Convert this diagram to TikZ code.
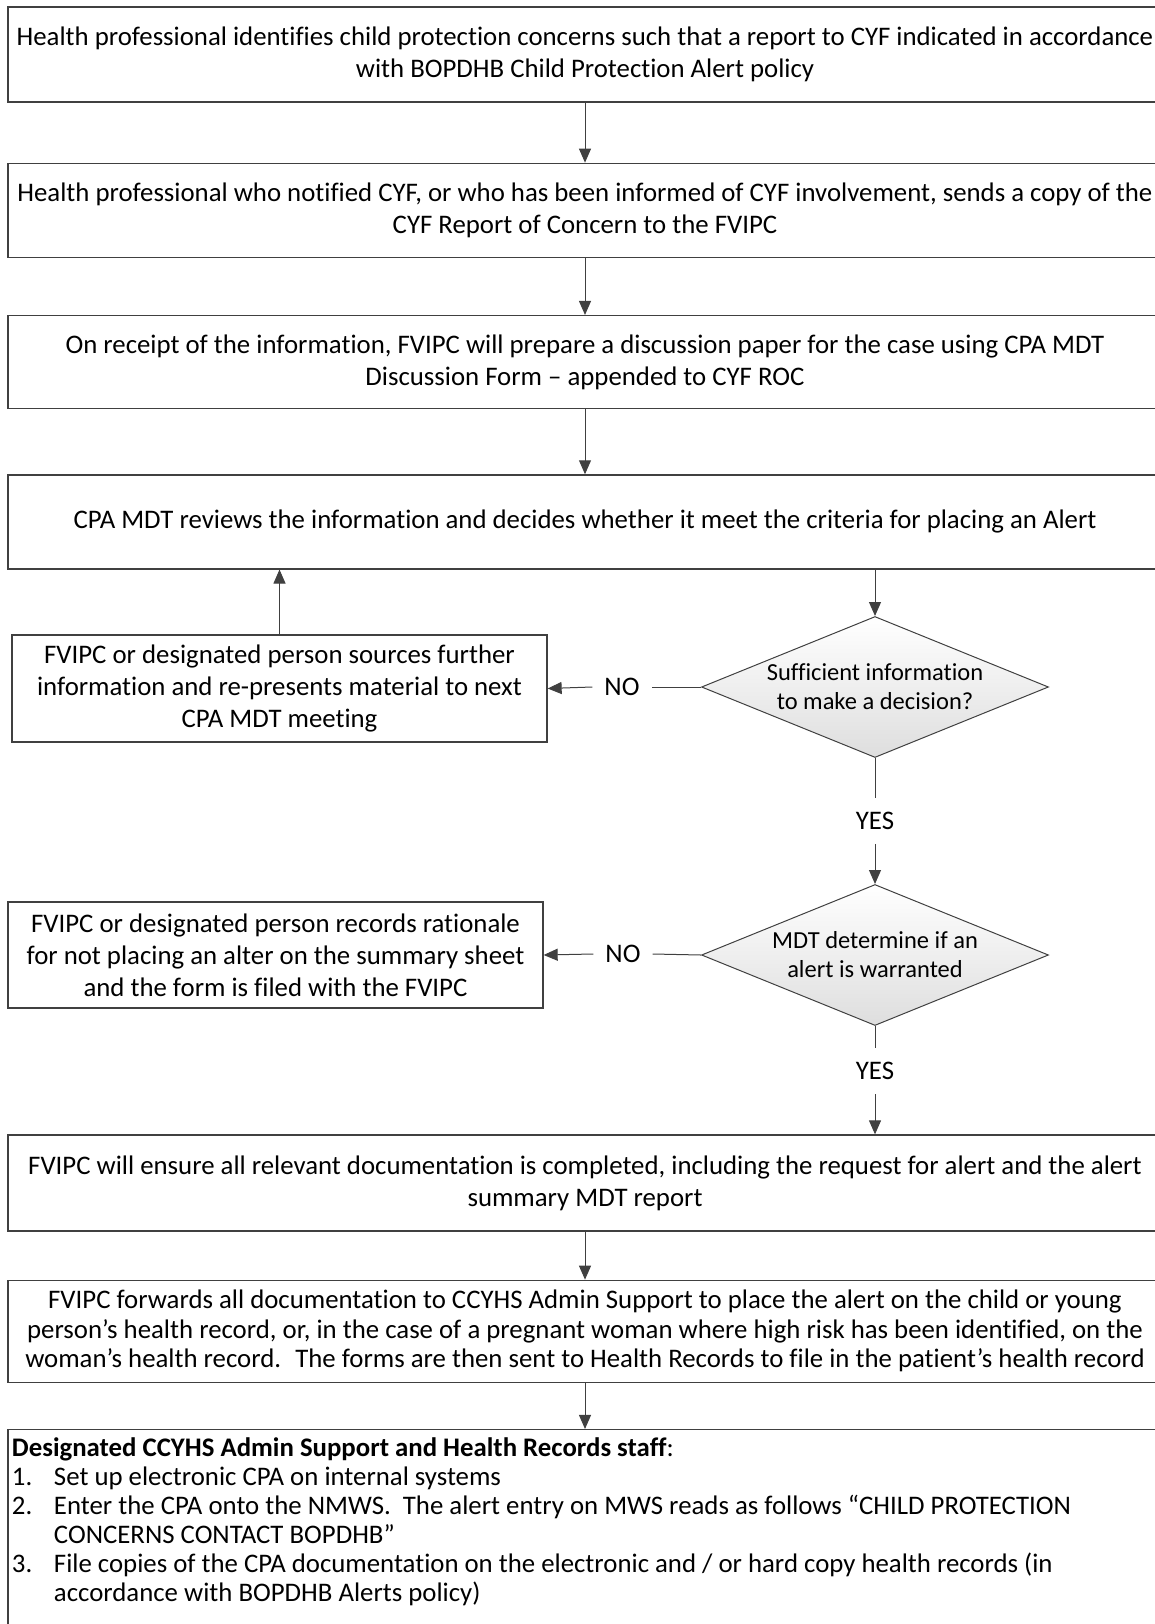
\documentclass[tikz,border=0pt]{standalone}
\usepackage{fontspec}
\setmainfont{Carlito}[Ligatures=NoCommon]
\usepackage{xcolor}
\definecolor{edgegray}{RGB}{64,64,64}
\definecolor{diagray}{RGB}{222,222,222}
\usepackage{tikz}
\usetikzlibrary{shapes.geometric,arrows.meta,positioning}

\begin{document}
\begin{tikzpicture}[x=1pt,y=1pt,font=\fontsize{26.8}{32}\selectfont]
  \tikzstyle{flowbox}=[rectangle,draw=edgegray,line width=1.3pt,minimum width=1154pt,align=center,inner sep=0pt]
  \tikzstyle{sidebox}=[rectangle,draw=edgegray,line width=1.3pt,minimum width=535pt,minimum height=107pt,align=center,inner sep=0pt]
  \tikzstyle{decision}=[diamond,draw=edgegray,line width=1pt,top color=white,bottom color=diagray,aspect=2.46,minimum width=347pt,minimum height=141pt,inner sep=-4pt,align=center,font=\fontsize{24.5}{29}\selectfont]
  \tikzstyle{lbl}=[inner xsep=12pt,inner ysep=14pt]
  \tikzstyle{arr}=[draw=edgegray,line width=1pt,-{Triangle[length=14pt,width=12pt]}]
  \tikzstyle{link}=[draw=edgegray,line width=1pt]

  \path[use as bounding box,clip] (0,0) rectangle (1155,-1624);

  \node[flowbox,minimum height=95pt] (b1) at (585,-54.5) {Health professional identifies child protection concerns such that a report to CYF indicated in accordance\\with BOPDHB Child Protection Alert policy};
  \node[flowbox,minimum height=94pt,below=60pt of b1] (b2) {Health professional who notified CYF, or who has been informed of CYF involvement, sends a copy of the\\CYF Report of Concern to the FVIPC};
  \node[flowbox,minimum height=93pt,below=57pt of b2] (b3) {On receipt of the information, FVIPC will prepare a discussion paper for the case using CPA MDT\\Discussion Form -- appended to CYF ROC};
  \node[flowbox,minimum height=94pt,below=65pt of b3] (b4) {CPA MDT reviews the information and decides whether it meet the criteria for placing an Alert};

  \node[decision] (d1) at (875,-687) {Sufficient information\\to make a decision?};
  \node[sidebox] (s1) at (279.5,-688.5) {FVIPC or designated person sources further\\information and re-presents material to next\\CPA MDT meeting};
  \node[lbl] (no1) at (622,-687) {NO};
  \node[lbl] (yes1) at (875,-821) {YES};

  \node[decision] (d2) at (875,-955) {MDT determine if an\\alert is warranted};
  \node[sidebox,minimum height=106pt] (s2) at (275.5,-955) {FVIPC or designated person records rationale\\for not placing an alter on the summary sheet\\and the form is filed with the FVIPC};
  \node[lbl] (no2) at (623,-954) {NO};
  \node[lbl] (yes2) at (875,-1071) {YES};

  \node[flowbox,minimum height=96pt] (b5) at (585,-1183) {FVIPC will ensure all relevant documentation is completed, including the request for alert and the alert\\summary MDT report};
  \node[flowbox,minimum height=102pt,below=48pt of b5,font=\fontsize{26.8}{29.5}\selectfont] (b6) {FVIPC forwards all documentation to CCYHS Admin Support to place the alert on the child or young\\person’s health record, or, in the case of a pregnant woman where high risk has been identified, on the\\woman’s health record.~ The forms are then sent to Health Records to file in the patient’s health record};
  \node[flowbox,inner sep=4pt,below=46pt of b6] (b7) {\begin{minipage}[t][250pt][t]{1146pt}\raggedright\fontsize{26.8}{29}\selectfont
    \rule{0pt}{23pt}\textbf{Designated CCYHS Admin Support and Health Records staff}:\\
    \makebox[42pt][l]{1.}Set up electronic CPA on internal systems\\
    \makebox[42pt][l]{2.}Enter the CPA onto the NMWS.~ The alert entry on MWS reads as follows “CHILD PROTECTION\\
    \hspace*{42pt}CONCERNS CONTACT BOPDHB”\\
    \makebox[42pt][l]{3.}File copies of the CPA documentation on the electronic and / or hard copy health records (in\\
    \hspace*{42pt}accordance with BOPDHB Alerts policy)
  \end{minipage}};

  \draw[arr] (b1) -- (b2);
  \draw[arr] (b2) -- (b3);
  \draw[arr] (b3) -- (b4);
  \draw[arr] (b4.south -| d1.north) -- (d1.north);
  \draw[link] (d1.west) -- (no1.east);
  \draw[arr] (no1.west) -- (s1.east);
  \draw[arr] (s1.north) -- (s1.north |- b4.south);
  \draw[link] (d1.south) -- (yes1.north);
  \draw[arr] (yes1.south) -- (d2.north);
  \draw[link] (d2.west) -- (no2.east);
  \draw[arr] (no2.west) -- (s2.east);
  \draw[link] (d2.south) -- (yes2.north);
  \draw[arr] (yes2.south) -- (yes2.south |- b5.north);
  \draw[arr] (b5) -- (b6);
  \draw[arr] (b6.south) -- (b6.south |- b7.north);
\end{tikzpicture}
\end{document}
